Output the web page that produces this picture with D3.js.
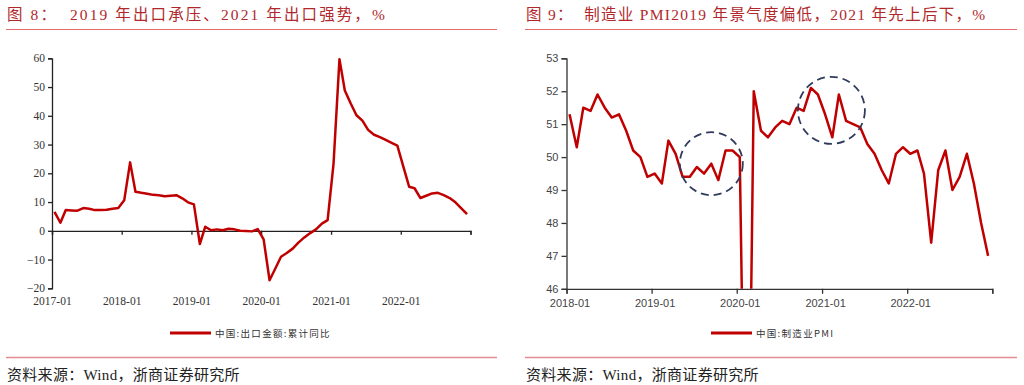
<!DOCTYPE html>
<html>
<head>
<meta charset="utf-8">
<script src="https://cdn.jsdelivr.net/npm/d3@7/dist/d3.min.js"></script>
<style>
  body { margin: 0; background: #fff; }
</style>
</head>
<body>
<div id="canvas"></div>
<script>
// 图8：中国出口金额累计同比（%），每年 1-12 月
const export2017 = [6.6, 2.8, 7.2, 7.1, 7.0, 7.9, 7.7, 7.2, 7.2, 7.3, 7.7, 7.9];
const export2018 = [10.6, 23.8, 13.6, 13.2, 12.9, 12.5, 12.4, 12.0, 12.2, 12.4, 11.3, 9.9];
const export2019 = [9.2, -4.6, 1.4, 0.2, 0.5, 0.2, 0.7, 0.5, 0.0, -0.1, -0.2, 0.6];
const export2020 = [-3.0, -17.2, -13.3, -9.0, -7.7, -6.2, -4.1, -2.3, -0.8, 0.5, 2.5, 3.7];
const export2021 = [23.4, 59.7, 48.8, 44.3, 40.2, 38.3, 35.1, 33.4, 32.6, 31.6, 30.6, 29.6];
const export2022 = [22.4, 15.3, 14.8, 11.4, 12.2, 13.0, 13.2, 12.4, 11.4, 9.9, 7.8, 5.8];
const exportYears = [2017, 2018, 2019, 2020, 2021, 2022];
const exportXTicks = ["2017-01", "2018-01", "2019-01", "2020-01", "2021-01", "2022-01"];
const exportYTicks = [-20, -10, 0, 10, 20, 30, 40, 50, 60];

// 图9：中国制造业PMI，每年 1-12 月
const pmi2018 = [51.3, 50.3, 51.5, 51.4, 51.9, 51.5, 51.2, 51.3, 50.8, 50.2, 50.0, 49.4];
const pmi2019 = [49.5, 49.2, 50.5, 50.1, 49.4, 49.4, 49.7, 49.5, 49.8, 49.3, 50.2, 50.2];
const pmi2020 = [50.0, 35.7, 52.0, 50.8, 50.6, 50.9, 51.1, 51.0, 51.5, 51.4, 52.1, 51.9];
const pmi2021 = [51.3, 50.6, 51.9, 51.1, 51.0, 50.9, 50.4, 50.1, 49.6, 49.2, 50.1, 50.3];
const pmi2022 = [50.1, 50.2, 49.5, 47.4, 49.6, 50.2, 49.0, 49.4, 50.1, 49.2, 48.0, 47.0];
const pmiYears = [2018, 2019, 2020, 2021, 2022];
const pmiXTicks = ["2018-01", "2019-01", "2020-01", "2021-01", "2022-01"];
const pmiYTicks = [46, 47, 48, 49, 50, 51, 52, 53];
// 虚线圈标注（日期, 数值）
const pmiCircleDates = ["2019-09-14", "2021-02-10"];
const pmiCircleValues = [49.8, 51.42];

const parseMonth = d3.timeParse("%Y-%m");
const parseDay = d3.timeParse("%Y-%m-%d");
const lineColor = "#C00000";

// 年份数组 -> [{date, value}]，点位于每月中旬
function toSeries(years, valueArrays) {
    let out = [];
    years.forEach((y, i) => {
        valueArrays[i].forEach((v, m) => {
            out.push({ date: new Date(y, m, 14), value: v });
        });
    });
    return out;
}

const svg = d3.select("#canvas").append("svg")
    .attr("width", 1024)
    .attr("height", 385)
    .style("display", "block");

// 标题、分隔线、资料来源
function DrawFrame(x0, x1, title, spacing) {
    let g = svg.append("g");
    g.append("text")
        .attr("x", x0 + 1)
        .attr("y", 19.5)
        .attr("font-family", "'Liberation Serif', 'Noto Sans CJK SC'")
        .attr("font-size", "15.5px")
        .attr("letter-spacing", spacing + "px")
        .attr("fill", "#B0282C")
        .style("white-space", "pre")
        .text(title);
    g.append("line")
        .attr("x1", x0).attr("x2", x1)
        .attr("y1", 29.5).attr("y2", 29.5)
        .attr("stroke", "#E46A6E")
        .attr("stroke-width", 1.2);
    g.append("line")
        .attr("x1", x0).attr("x2", x1)
        .attr("y1", 357.5).attr("y2", 357.5)
        .attr("stroke", "#E28C90")
        .attr("stroke-width", 1.4);
    g.append("text")
        .attr("x", x0 + 1)
        .attr("y", 380)
        .attr("font-family", "'Liberation Serif', 'Noto Sans CJK SC'")
        .attr("font-size", "15px")
        .attr("letter-spacing", "0.3px")
        .attr("fill", "#222")
        .text("资料来源：Wind，浙商证券研究所");
}

function DrawLegend(x, label) {
    let g = svg.append("g");
    g.append("line")
        .attr("x1", x).attr("x2", x + 41)
        .attr("y1", 333).attr("y2", 333)
        .attr("stroke", lineColor)
        .attr("stroke-width", 3);
    g.append("text")
        .attr("x", x + 45)
        .attr("y", 336.5)
        .attr("font-family", "'Noto Sans CJK SC'")
        .attr("font-size", "9.5px")
        .attr("letter-spacing", "1.3px")
        .attr("fill", "#333")
        .text(label);
}

// ---- 图8 ----
function DrawExportChart() {
    let data = toSeries(exportYears, [export2017, export2018, export2019, export2020, export2021, export2022]);
    let xScale = d3.scaleTime()
        .domain([parseMonth("2017-01"), parseMonth("2023-01")])
        .range([52, 470.5]);
    let yScale = d3.scaleLinear()
        .domain([-20, 60])
        .range([288.3, 58.3]);
    let g = svg.append("g");
    let bottomY = yScale(-20);
    let zeroY = yScale(0);

    // y轴
    let yAxis = g.append("g")
        .attr("transform", "translate(52,0)")
        .call(d3.axisLeft(yScale).tickValues(exportYTicks).tickSize(4).tickPadding(3).tickFormat(d3.format("d")));
    // x轴（零线位置，标签放到底部）
    let xTicks = exportXTicks.map(parseMonth).concat([parseMonth("2023-01")]);
    let xAxis = g.append("g")
        .attr("transform", "translate(0," + zeroY + ")")
        .call(d3.axisBottom(xScale).tickValues(xTicks).tickSize(4)
            .tickFormat((d, i) => i < exportXTicks.length ? exportXTicks[i] : ""));
    xAxis.selectAll("text").attr("y", bottomY - zeroY + 9);

    [yAxis, xAxis].forEach(a => {
        a.selectAll(".domain").attr("stroke", "#222").attr("stroke-width", 1.3);
        a.selectAll(".tick line").attr("stroke", "#222").attr("stroke-width", 1.3);
        a.selectAll("text")
            .attr("font-family", "'Liberation Serif'")
            .attr("font-size", "11.5px")
            .attr("fill", "#333");
    });

    let line = d3.line()
        .x(d => xScale(d.date))
        .y(d => yScale(d.value));
    g.append("path")
        .datum(data)
        .attr("fill", "none")
        .attr("stroke", lineColor)
        .attr("stroke-width", 2.5)
        .attr("stroke-linejoin", "round")
        .attr("d", line);

    DrawLegend(170, "中国:出口金额:累计同比");
}

// ---- 图9 ----
function DrawPmiChart() {
    let data = toSeries(pmiYears, [pmi2018, pmi2019, pmi2020, pmi2021, pmi2022]);
    let xScale = d3.scaleTime()
        .domain([parseMonth("2018-01"), parseMonth("2023-01")])
        .range([566.5, 992.3]);
    let yScale = d3.scaleLinear()
        .domain([46, 53])
        .range([288.8, 58.3]);
    let g = svg.append("g");

    svg.append("clipPath").attr("id", "pmiClip")
        .append("rect")
        .attr("x", 567).attr("y", 40)
        .attr("width", 440).attr("height", yScale(46) - 40);

    let yAxis = g.append("g")
        .attr("transform", "translate(566.5,0)")
        .call(d3.axisLeft(yScale).tickValues(pmiYTicks).tickSize(5).tickPadding(3).tickFormat(d3.format("d")));
    let xTicks = pmiXTicks.map(parseMonth).concat([parseMonth("2023-01")]);
    let xAxis = g.append("g")
        .attr("transform", "translate(0," + yScale(46) + ")")
        .call(d3.axisBottom(xScale).tickValues(xTicks).tickSize(5).tickPadding(5)
            .tickFormat((d, i) => i < pmiXTicks.length ? pmiXTicks[i] : ""));
    xAxis.selectAll("text").attr("dx", 3);

    [yAxis, xAxis].forEach(a => {
        a.selectAll(".domain").attr("stroke", "#333").attr("stroke-width", 1.3);
        a.selectAll(".tick line").attr("stroke", "#333").attr("stroke-width", 1.3);
        a.selectAll("text")
            .attr("font-family", "'Liberation Sans'")
            .attr("font-size", "11px")
            .attr("fill", "#444");
    });

    let line = d3.line()
        .x(d => xScale(d.date))
        .y(d => yScale(d.value));
    g.append("path")
        .datum(data)
        .attr("clip-path", "url(#pmiClip)")
        .attr("fill", "none")
        .attr("stroke", lineColor)
        .attr("stroke-width", 2.5)
        .attr("stroke-linejoin", "round")
        .attr("d", line);

    // 虚线圈
    g.selectAll("circle.mark")
        .data(pmiCircleDates)
        .enter().append("circle")
        .attr("class", "mark")
        .attr("cx", d => xScale(parseDay(d)))
        .attr("cy", (d, i) => yScale(pmiCircleValues[i]))
        .attr("r", (d, i) => i === 0 ? 31.5 : 33.5)
        .attr("fill", "none")
        .attr("stroke", "#2F3B5C")
        .attr("stroke-width", 1.8)
        .attr("stroke-dasharray", "8 5");

    DrawLegend(711, "中国:制造业PMI");
}

DrawFrame(6, 497, "图 8：  2019 年出口承压、2021 年出口强势，%", 2.1);
DrawFrame(525, 1017, "图 9：  制造业 PMI2019 年景气度偏低，2021 年先上后下，%", 1.3);
DrawExportChart();
DrawPmiChart();
</script>
</body>
</html>
